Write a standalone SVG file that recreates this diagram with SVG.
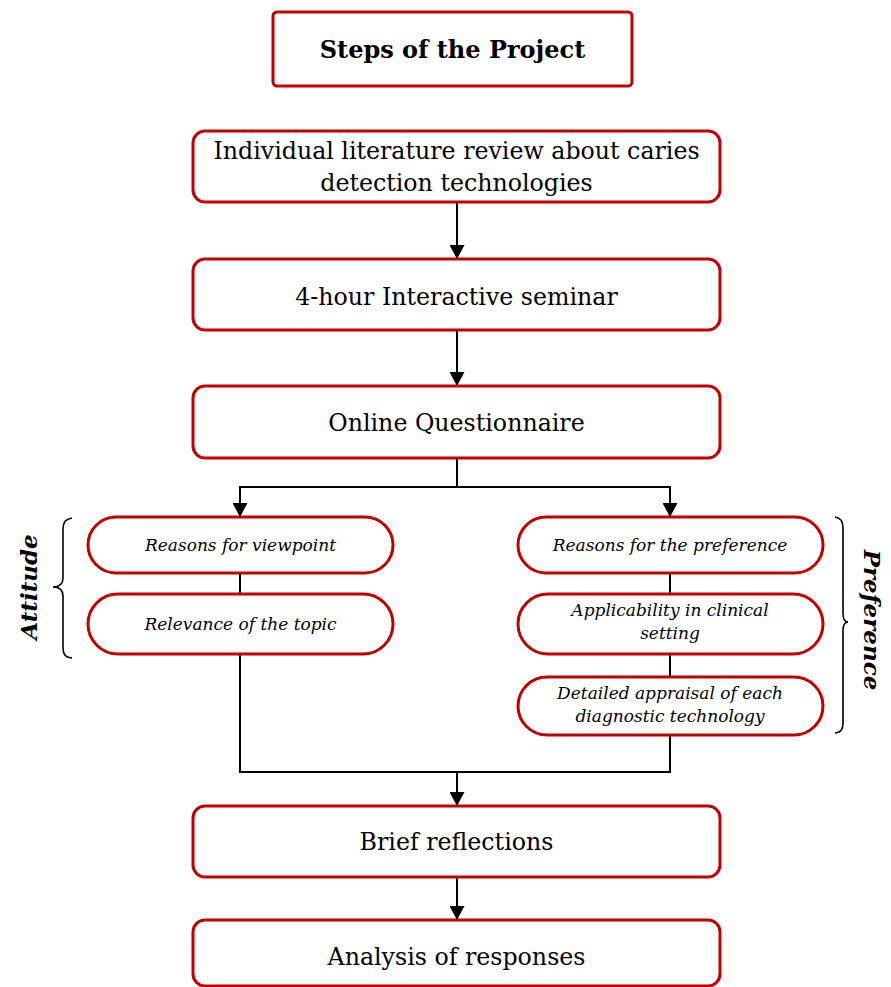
<svg xmlns="http://www.w3.org/2000/svg" width="891" height="987" viewBox="0 0 891 987">
<defs>
<marker id="ah" viewBox="0 0 14 15" refX="14" refY="7.5" markerWidth="14" markerHeight="15" markerUnits="userSpaceOnUse" orient="auto">
<path d="M0,0 L14,7.5 L0,15 z" fill="#000"/>
</marker>
<style>
.box{fill:#fff;stroke:#C00000;stroke-width:3}
.t{font-family:"DejaVu Serif","Liberation Serif",serif;font-size:23.7px;fill:#000;text-anchor:middle}
.ti{font-family:"DejaVu Serif","Liberation Serif",serif;font-size:17px;font-style:italic;fill:#000;text-anchor:middle}
.tb{font-family:"DejaVu Serif","Liberation Serif",serif;font-size:24px;font-weight:bold;fill:#000;text-anchor:middle}
.side{font-family:"DejaVu Serif","Liberation Serif",serif;font-size:23px;font-weight:bold;font-style:italic;fill:#000;text-anchor:middle}
.ln{fill:none;stroke:#000;stroke-width:2}
.br{fill:none;stroke:#000;stroke-width:1.6}
</style>
</defs>
<rect width="891" height="987" fill="#fff"/>

<g id="connectors">
<line class="ln" x1="457" y1="202" x2="457" y2="259" marker-end="url(#ah)"/>
<line class="ln" x1="457" y1="330" x2="457" y2="386" marker-end="url(#ah)"/>
<polyline class="ln" points="457,458 457,487"/>
<polyline class="ln" points="240,487 670,487"/>
<line class="ln" x1="240" y1="486" x2="240" y2="517" marker-end="url(#ah)"/>
<line class="ln" x1="670" y1="486" x2="670" y2="517" marker-end="url(#ah)"/>
<line class="ln" x1="240" y1="573" x2="240" y2="594"/>
<line class="ln" x1="670" y1="573" x2="670" y2="594"/>
<line class="ln" x1="670" y1="654" x2="670" y2="677"/>
<polyline class="ln" points="240,654 240,772 670,772 670,735"/>
<line class="ln" x1="457" y1="771" x2="457" y2="806" marker-end="url(#ah)"/>
<line class="ln" x1="457" y1="877" x2="457" y2="920" marker-end="url(#ah)"/>
</g>

<g id="title">
<rect class="box" x="273" y="12" width="359" height="74" rx="4"/>
<text class="tb" x="452.5" y="58">Steps of the Project</text>
</g>

<g id="review">
<rect class="box" x="193" y="131" width="527" height="71" rx="12"/>
<text class="t" x="456.5" y="159">Individual literature review about caries</text>
<text class="t" x="456.5" y="191">detection technologies</text>
</g>

<g id="seminar">
<rect class="box" x="193" y="259" width="527" height="71" rx="12"/>
<text class="t" x="456.5" y="305">4-hour Interactive seminar</text>
</g>

<g id="questionnaire">
<rect class="box" x="193" y="386" width="527" height="72" rx="12"/>
<text class="t" x="456.5" y="431">Online Questionnaire</text>
</g>

<g id="viewpoint">
<rect class="box" x="88" y="517" width="305" height="56" rx="28"/>
<text class="ti" x="240.5" y="551">Reasons for viewpoint</text>
</g>

<g id="relevance">
<rect class="box" x="88" y="594" width="305" height="60" rx="30"/>
<text class="ti" x="240.5" y="630">Relevance of the topic</text>
</g>

<g id="pref-reasons">
<rect class="box" x="518" y="517" width="305" height="56" rx="28"/>
<text class="ti" x="670" y="551">Reasons for the preference</text>
</g>

<g id="applicability">
<rect class="box" x="518" y="594" width="305" height="60" rx="30"/>
<text class="ti" x="670" y="616">Applicability in clinical</text>
<text class="ti" x="670" y="639">setting</text>
</g>

<g id="appraisal">
<rect class="box" x="518" y="677" width="305" height="58" rx="29"/>
<text class="ti" x="670" y="699">Detailed appraisal of each</text>
<text class="ti" x="670" y="722">diagnostic technology</text>
</g>

<g id="attitude">
<path class="br" d="M72,518 Q63,519 63,529 L63,578 Q63,587 53,587 Q63,587 63,596 L63,648 Q63,658 72,658"/>
<text class="side" transform="translate(37,587) rotate(-90)">Attitude</text>
</g>

<g id="preference">
<path class="br" d="M835,517 Q843,518 843,528 L843,613 Q843,622 848,622 Q843,622 843,631 L843,723 Q843,733 835,733"/>
<text class="side" transform="translate(864,620) rotate(90)">Preference</text>
</g>

<g id="reflections">
<rect class="box" x="193" y="806" width="527" height="71" rx="12"/>
<text class="t" x="456.5" y="850">Brief reflections</text>
</g>

<g id="analysis">
<rect class="box" x="193" y="920" width="527" height="66" rx="12"/>
<text class="t" x="456.5" y="965">Analysis of responses</text>
</g>
</svg>
